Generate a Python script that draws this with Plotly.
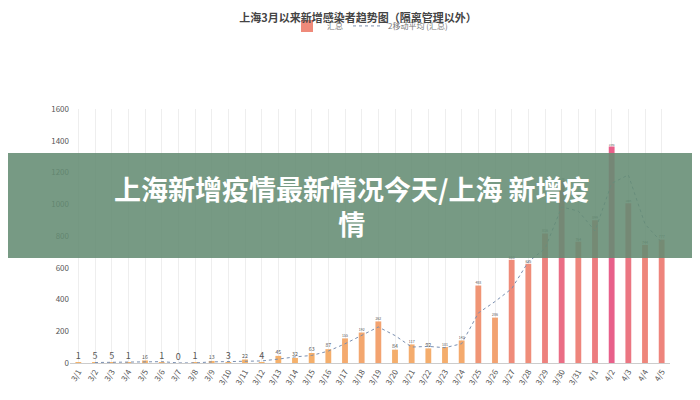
import plotly.graph_objects as go

dates = ["3/1","3/2","3/3","3/4","3/5","3/6","3/7","3/8","3/9","3/10","3/11","3/12","3/13","3/14","3/15","3/16","3/17","3/18","3/19","3/20","3/21","3/22","3/23","3/24","3/25","3/26","3/27","3/28","3/29","3/30","3/31","4/1","4/2","4/3","4/4","4/5"]
totals = [1,5,5,1,16,1,0,1,13,3,22,4,45,32,63,87,155,192,262,84,117,92,101,142,488,286,650,625,816,1150,764,899,1364,1006,744,777]
moving_avg = [None,3,5,3,8.5,8.5,0.5,0.5,7,8,12.5,13,24.5,38.5,47.5,75,121,173.5,227,173,100.5,104.5,96.5,121.5,315,387,468,637.5,720.5,983,957,831.5,1131.5,1185,875,760.5]
yticks = [0,200,400,600,800,1000,1200,1400,1600]

fig = go.Figure()
fig.add_bar(x=dates, y=totals, name="汇总", text=totals, textposition="outside",
            textfont=dict(size=9, color="#555"), cliponaxis=False,
            marker=dict(color=totals, colorscale=[[0,"#f5b36a"],[1,"#e8608a"]], line=dict(width=0)),
            width=0.35)
fig.add_scatter(x=dates, y=moving_avg, mode="lines", name="2移动平均 (汇总)",
                line=dict(color="#7a8fb0", width=1, dash="dot"))
fig.update_layout(
    width=700, height=400, margin=dict(l=62, r=38, t=101, b=45, autoexpand=False),
    plot_bgcolor="white", paper_bgcolor="white", showlegend=True,
    legend=dict(orientation="h", x=0.5, xanchor="center", y=1.27, yanchor="bottom", font=dict(size=8, color="#777")),
    title=dict(text="<b>上海3月以来新增感染者趋势图（隔离管理以外）</b>", x=0.5, y=0.985, font=dict(size=11, color="#444", family="Noto Sans CJK SC")),
    font=dict(family="Noto Sans CJK SC", size=8, color="#555"),
    bargap=0.6,
)
fig.update_xaxes(tickangle=-60, showgrid=True, gridcolor="#eee", showline=True, linecolor="#ccc", tickfont=dict(size=8), automargin=False)
fig.update_yaxes(range=[0,1600], tickvals=yticks, showgrid=False, zeroline=False, tickfont=dict(size=8), automargin=False)
fig.add_shape(type="rect", xref="paper", yref="paper", x0=-0.2, x1=1.2, y0=0.413, y1=0.827, fillcolor="rgba(100,140,115,0.88)", line_width=0, layer="above")
fig.add_annotation(text="<b>上海新增疫情最新情况今天/上海 新增疫<br>情</b>", xref="paper", yref="paper", x=0.47, y=0.62,
                   showarrow=False, font=dict(size=27, color="white", family="Noto Sans CJK SC"), align="center")
fig.write_html("out.html")
